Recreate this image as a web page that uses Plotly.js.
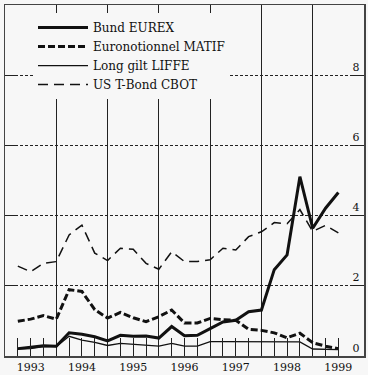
<!DOCTYPE html>
<html>
<head>
<meta charset="utf-8">
<script src="https://cdn.plot.ly/plotly-3.0.1.min.js"></script>
<style>
  html, body { margin: 0; padding: 0; background: #f7f7f7; }
  #chart { width: 368px; height: 375px; }
</style>
</head>
<body>
<div id="chart"></div>
<script>
// Quarterly observation dates (decimal years)
const quarters = [1993.25, 1993.5, 1993.75, 1994.0, 1994.25, 1994.5, 1994.75, 1995.0,
                  1995.25, 1995.5, 1995.75, 1996.0, 1996.25, 1996.5, 1996.75, 1997.0,
                  1997.25, 1997.5, 1997.75, 1998.0, 1998.25, 1998.5, 1998.75, 1999.0,
                  1999.25, 1999.5];

const bundEurex = [0.21, 0.25, 0.29, 0.28, 0.66, 0.62, 0.55, 0.43, 0.59, 0.56, 0.57, 0.51,
                   0.84, 0.58, 0.59, 0.78, 0.97, 1.02, 1.26, 1.31, 2.46, 2.88, 5.11, 3.64,
                   4.21, 4.66];

const euronotionnelMatif = [0.99, 1.05, 1.15, 1.05, 1.89, 1.84, 1.32, 1.08, 1.24, 1.09, 0.98, 1.12,
                            1.31, 0.94, 0.94, 1.07, 1.03, 1.02, 0.76, 0.73, 0.66, 0.52, 0.65, 0.38,
                            0.28, 0.21];

const longGiltLiffe = [0.2, 0.21, 0.27, 0.27, 0.56, 0.45, 0.39, 0.3, 0.36, 0.33, 0.31, 0.28,
                       0.36, 0.28, 0.28, 0.41, 0.41, 0.41, 0.41, 0.41, 0.41, 0.41, 0.4, 0.2,
                       0.2, 0.18];

const usTBondCbot = [2.56, 2.4, 2.64, 2.69, 3.45, 3.73, 2.93, 2.72, 3.07, 3.04, 2.64, 2.47,
                     2.97, 2.69, 2.69, 2.74, 3.07, 3.02, 3.4, 3.54, 3.8, 3.77, 4.17, 3.55,
                     3.72, 3.51];

const seriesNames = ['Bund EUREX', 'Euronotionnel MATIF', 'Long gilt LIFFE', 'US T-Bond CBOT'];

const yearLabels = ['1993', '1994', '1995', '1996', '1997', '1998', '1999'];
const yearLabelPositions = [1993.5, 1994.5, 1995.5, 1996.5, 1997.5, 1998.5, 1999.5];
const yearBoundaries = [1994, 1995, 1996, 1997, 1998, 1999];
const yTickValues = [0, 2, 4, 6, 8];

// quarter ticks (excluding year boundaries, which carry the vertical lines)
const quarterTicks = quarters.filter(q => !Number.isInteger(q));
const quarterText = quarterTicks.map(q => {
  const i = yearLabelPositions.indexOf(q);
  return i >= 0 ? yearLabels[i] : '';
});

const ink = '#111';
const traces = [
  {x: quarters, y: bundEurex, name: seriesNames[0], mode: 'lines',
   line: {color: ink, width: 3}},
  {x: quarters, y: euronotionnelMatif, name: seriesNames[1], mode: 'lines',
   line: {color: ink, width: 3, dash: '7px,3px'}},
  {x: quarters, y: longGiltLiffe, name: seriesNames[2], mode: 'lines',
   line: {color: ink, width: 1.3}},
  {x: quarters, y: usTBondCbot, name: seriesNames[3], mode: 'lines',
   line: {color: ink, width: 1.5, dash: '10px,6px'}}
];

const layout = {
  width: 368, height: 375,
  margin: {l: 5, r: 4, t: 5, b: 19},
  paper_bgcolor: '#f7f7f7',
  plot_bgcolor: '#f7f7f7',
  font: {family: 'DejaVu Serif', size: 11, color: ink},
  showlegend: true,
  legend: {
    x: 0.078, y: 0.977, xanchor: 'left', yanchor: 'top',
    bgcolor: '#f7f7f7', borderwidth: 0,
    font: {family: 'DejaVu Serif', size: 12, color: ink},
    itemwidth: 50
  },
  xaxis: {
    range: [1993, 2000],
    tickmode: 'array', tickvals: quarterTicks, ticktext: quarterText,
    ticks: 'inside', ticklen: 18, tickwidth: 1, tickcolor: '#222',
    showgrid: false, zeroline: false,
    showline: true, linecolor: '#444', linewidth: 1.5, mirror: true,
    tickfont: {family: 'DejaVu Serif', size: 11, color: ink},
    minor: {tickmode: 'array', tickvals: yearBoundaries, showgrid: true,
            gridcolor: '#222', gridwidth: 1, griddash: 'solid', ticks: ''}
  },
  yaxis: {
    range: [0, 10], side: 'right',
    tickmode: 'array', tickvals: yTickValues,
    ticks: 'inside', ticklen: 11, tickwidth: 1, tickcolor: '#222',
    ticklabelposition: 'inside top', ticklabelstandoff: 3,
    showgrid: true, gridcolor: '#222', gridwidth: 1, griddash: '3px,2px',
    zeroline: false,
    showline: true, linecolor: '#444', linewidth: 1.5, mirror: 'ticks',
    tickfont: {family: 'DejaVu Serif', size: 11, color: ink}
  }
};

Plotly.newPlot('chart', traces, layout, {displayModeBar: false, staticPlot: true});
</script>
</body>
</html>
